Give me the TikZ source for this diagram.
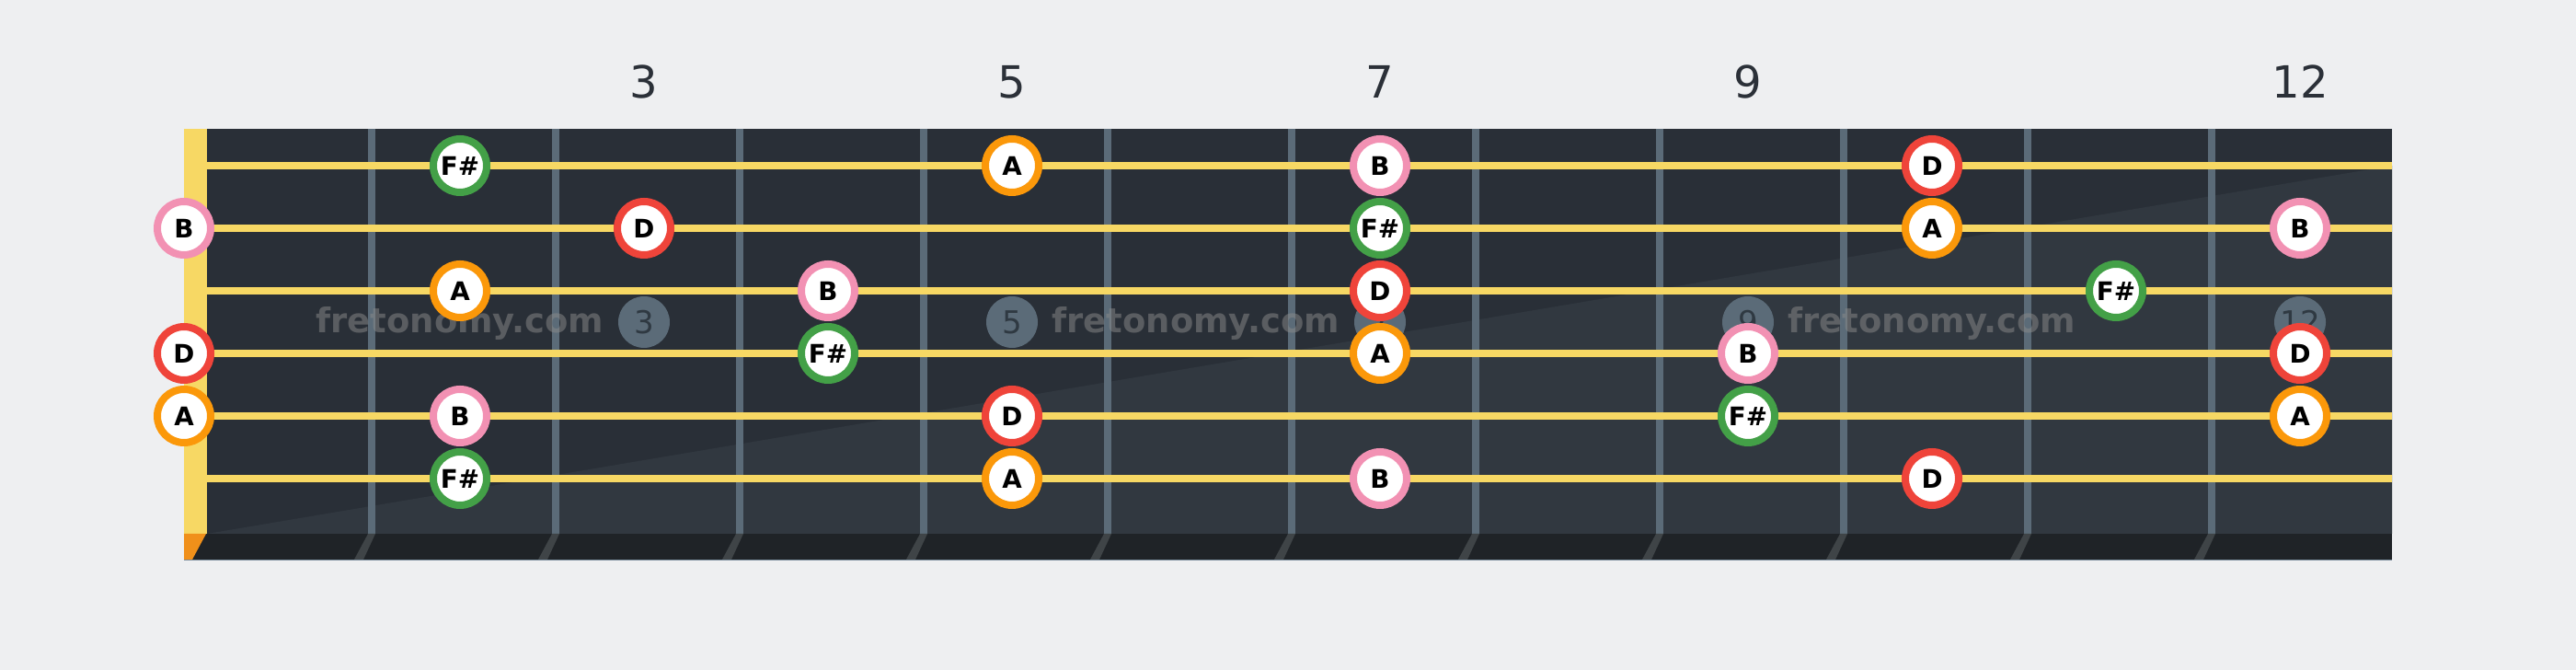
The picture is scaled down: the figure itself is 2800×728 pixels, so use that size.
\documentclass[tikz,border=0pt]{standalone}
\usepackage{fontspec}
\setmainfont{DejaVu Sans}
\usepackage{tikz}

\definecolor{pagebg}{HTML}{EEEFF1}
\definecolor{board}{HTML}{292F37}
\definecolor{boardlight}{HTML}{313840}
\definecolor{boardfoot}{HTML}{1F2327}
\definecolor{edgeline}{HTML}{7A8C9C}
\definecolor{fretwire}{HTML}{5B6B78}
\definecolor{fretfoot}{HTML}{3F4447}
\definecolor{stringcol}{HTML}{F7D864}
\definecolor{nutfoot}{HTML}{F0901A}
\definecolor{numcol}{HTML}{2B3038}
\definecolor{markdigit}{HTML}{2F3942}
\definecolor{wmcol}{HTML}{8B8B8B}
\definecolor{ringB}{HTML}{F291B3}
\definecolor{ringFs}{HTML}{43A047}
\definecolor{ringD}{HTML}{EF443A}
\definecolor{ringA}{HTML}{FB980A}

\newcommand{\notefont}{\fontsize{7.9}{9}\bfseries\selectfont}
\newcommand{\wmfont}{\fontsize{10.5}{12}\bfseries\selectfont}
\newcommand{\numfont}{\fontsize{13.7}{16}\selectfont}
\newcommand{\markfont}{\fontsize{9.7}{11}\selectfont}

\begin{document}
\begin{tikzpicture}[x=0.1mm,y=-0.1mm,
    note/.style={circle, draw=#1, fill=white, line width=0.8mm,
      minimum size=5.8mm, inner sep=0pt, font=\notefont},
    marker/.style={circle, fill=fretwire, minimum size=5.6mm, inner sep=0pt,
      text=markdigit, font=\markfont},
    fretnum/.style={anchor=base, text=numcol, font=\numfont},
    watermark/.style={anchor=base, text=wmcol, text opacity=0.5, font=\wmfont}]
  \useasboundingbox[fill=pagebg] (0,0) rectangle (2800,728);

  % neck
  \fill[board] (200,140) rectangle (2600,580);
  \fill[boardlight] (225,580) -- (2600,180) -- (2600,580) -- cycle;
  \foreach \n in {1,...,11}
    \fill[fretwire] (200+200*\n,140) rectangle (208+200*\n,580);
  \fill[boardfoot] (200,580) rectangle (2600,608);
  \draw[edgeline, line width=0.15mm] (200,608.5) -- (2600,608.5);
  \foreach \n in {1,...,11}
    \fill[fretfoot] (200+200*\n,580) -- (208+200*\n,580)
      -- (195+200*\n,608) -- (185+200*\n,608) -- cycle;
  \fill[stringcol] (200,140) rectangle (225,580);
  \fill[nutfoot] (200,580) -- (224,580) -- (209,608) -- (200,608) -- cycle;
  \foreach \s in {1,...,6}
    \draw[stringcol, line width=0.8mm] (225,112+68*\s) -- (2600,112+68*\s);

  % fret numbers and inlays
  \foreach \f in {3,5,7,9,12} {
    \node[fretnum] (num-\f) at (100+200*\f,107) {\f};
    \node[marker] (mk-\f) at (100+200*\f,350) {\f};
  }
  \node[watermark] (wm-1) at (500,362) {fretonomy.com};
  \node[watermark] (wm-2) at (1300,362) {fretonomy.com};
  \node[watermark] (wm-3) at (2100,362) {fretonomy.com};

  % scale notes: string/fret
  \foreach \s/\f in {1/2,2/7,3/11,4/4,5/9,6/2} {
    \pgfmathsetmacro\nx{\f==0 ? 200 : 100+200*\f}
    \node[note=ringFs] (fs-\s-\f) at (\nx,112+68*\s) {F\#};
  }
  \foreach \s/\f in {1/5,2/10,3/2,4/7,5/0,5/12,6/5} {
    \pgfmathsetmacro\nx{\f==0 ? 200 : 100+200*\f}
    \node[note=ringA] (a-\s-\f) at (\nx,112+68*\s) {A};
  }
  \foreach \s/\f in {1/7,2/0,2/12,3/4,4/9,5/2,6/7} {
    \pgfmathsetmacro\nx{\f==0 ? 200 : 100+200*\f}
    \node[note=ringB] (b-\s-\f) at (\nx,112+68*\s) {B};
  }
  \foreach \s/\f in {1/10,2/3,3/7,4/0,4/12,5/5,6/10} {
    \pgfmathsetmacro\nx{\f==0 ? 200 : 100+200*\f}
    \node[note=ringD] (d-\s-\f) at (\nx,112+68*\s) {D};
  }
\end{tikzpicture}
\end{document}
